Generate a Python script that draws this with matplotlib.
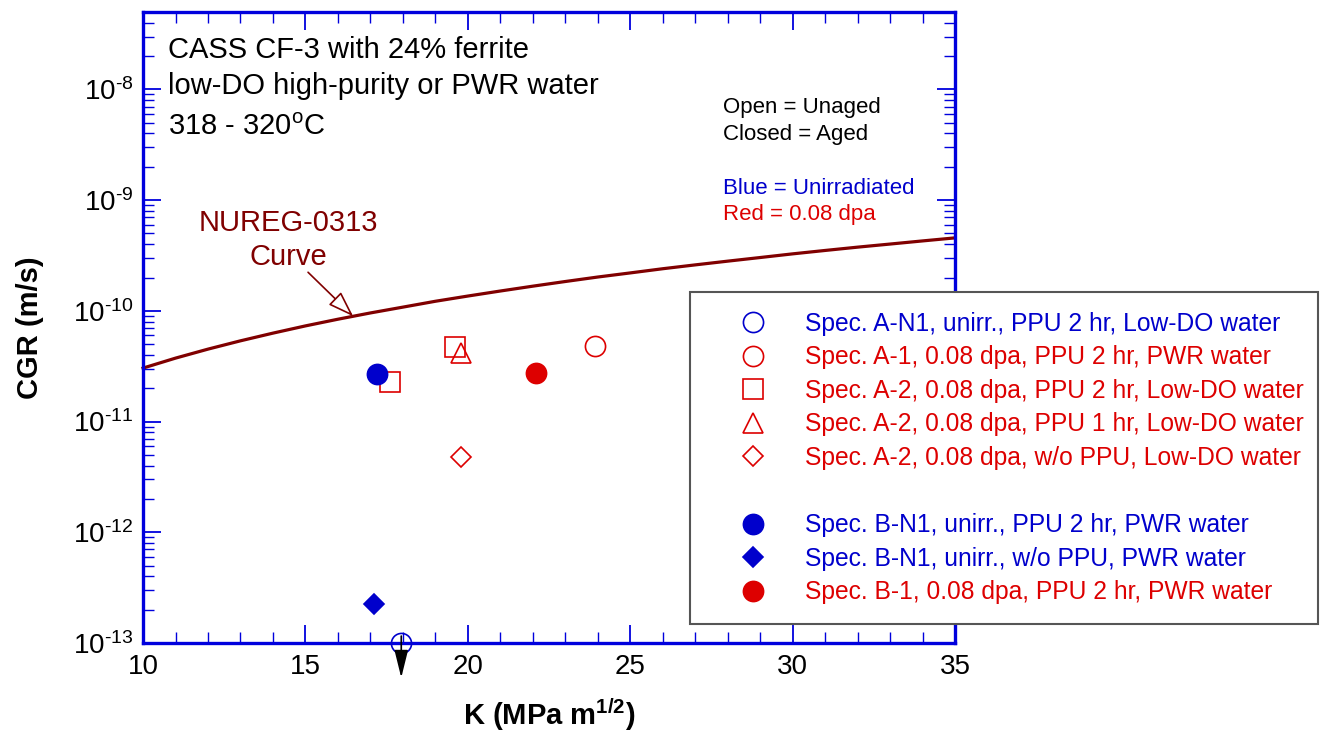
import numpy as np
import matplotlib
matplotlib.use('Agg')
import matplotlib.pyplot as plt
from matplotlib.lines import Line2D
import matplotlib.transforms as mtransforms
from matplotlib.ticker import LogLocator, MultipleLocator, NullFormatter, FuncFormatter

plt.rcParams['font.family'] = ['Liberation Sans', 'DejaVu Sans']
plt.rcParams['mathtext.fontset'] = 'custom'
plt.rcParams['mathtext.rm'] = 'Liberation Sans'
plt.rcParams['mathtext.it'] = 'Liberation Sans:italic'
plt.rcParams['mathtext.bf'] = 'Liberation Sans:bold'
plt.rcParams['axes.unicode_minus'] = False

BLUE = '#0000cc'
RED = '#dd0000'
MAROON = '#800000'
SPINE = '#0000dd'

# NUREG-0313 curve
nureg_k = [10, 11, 12, 13, 14, 15, 16, 17, 18, 19, 20, 21, 22, 23, 24, 25,
           26, 27, 28, 29, 30, 31, 32, 33, 34, 35]
nureg_cgr = [3.04e-11, 3.74e-11, 4.51e-11, 5.36e-11, 6.29e-11, 7.31e-11,
             8.40e-11, 9.57e-11, 1.08e-10, 1.22e-10, 1.36e-10, 1.51e-10,
             1.67e-10, 1.84e-10, 2.02e-10, 2.20e-10, 2.40e-10, 2.60e-10,
             2.81e-10, 3.03e-10, 3.27e-10, 3.51e-10, 3.76e-10, 4.01e-10,
             4.28e-10, 4.56e-10]

# Specimen data
a_n1_k = [17.95]
a_n1_cgr = [1.0e-13]          # below detection (arrow)
a1_k = [23.9]
a1_cgr = [4.8e-11]
a2_ppu2_k = [17.6, 19.6]
a2_ppu2_cgr = [2.27e-11, 4.7e-11]
a2_ppu1_k = [19.8]
a2_ppu1_cgr = [4.2e-11]
a2_noppu_k = [19.8]
a2_noppu_cgr = [4.8e-12]
bn1_ppu2_k = [17.2]
bn1_ppu2_cgr = [2.68e-11]
bn1_noppu_k = [17.1]
bn1_noppu_cgr = [2.27e-13]
b1_k = [22.1]
b1_cgr = [2.74e-11]

labels = [
    'Spec. A-N1, unirr., PPU 2 hr, Low-DO water',
    'Spec. A-1, 0.08 dpa, PPU 2 hr, PWR water',
    'Spec. A-2, 0.08 dpa, PPU 2 hr, Low-DO water',
    'Spec. A-2, 0.08 dpa, PPU 1 hr, Low-DO water',
    'Spec. A-2, 0.08 dpa, w/o PPU, Low-DO water',
    'Spec. B-N1, unirr., PPU 2 hr, PWR water',
    'Spec. B-N1, unirr., w/o PPU, PWR water',
    'Spec. B-1, 0.08 dpa, PPU 2 hr, PWR water',
]

fig = plt.figure(figsize=(13.27, 7.32), dpi=100)
ax = fig.add_axes([0.1078, 0.1216, 0.6119, 0.862])

ax.plot(nureg_k, nureg_cgr, color=MAROON, lw=2.3, zorder=2, clip_on=False)

series = [
    (a_n1_k, a_n1_cgr, 'o', 14.5, 'none', BLUE, labels[0], BLUE),
    (a1_k, a1_cgr, 'o', 14.5, 'none', RED, labels[1], RED),
    (a2_ppu2_k, a2_ppu2_cgr, 's', 14, 'none', RED, labels[2], RED),
    (a2_ppu1_k, a2_ppu1_cgr, '^', 15, 'none', RED, labels[3], RED),
    (a2_noppu_k, a2_noppu_cgr, 'D', 10.5, 'none', RED, labels[4], RED),
    (bn1_ppu2_k, bn1_ppu2_cgr, 'o', 14.5, BLUE, BLUE, labels[5], BLUE),
    (bn1_noppu_k, bn1_noppu_cgr, 'D', 10.5, BLUE, BLUE, labels[6], BLUE),
    (b1_k, b1_cgr, 'o', 14.5, RED, RED, labels[7], RED),
]

handles = []
text_colors = []
for k, c, m, ms, mfc, mec, lab, tc in series:
    h, = ax.plot(k, c, linestyle='none', marker=m, markersize=ms,
                 markerfacecolor=mfc, markeredgecolor=mec, markeredgewidth=1.2,
                 zorder=4, clip_on=False, label=lab)
    handles.append(h)
    text_colors.append(tc)

# arrow below the A-N1 point (below detection limit)
down = mtransforms.offset_copy(ax.transData, fig=fig, x=0, y=-25, units='points')
up = mtransforms.offset_copy(ax.transData, fig=fig, x=0, y=5, units='points')
ax.annotate('', xy=(a_n1_k[0], a_n1_cgr[0]), xycoords=down,
            xytext=(a_n1_k[0], a_n1_cgr[0]), textcoords=up,
            arrowprops=dict(arrowstyle='-|>,head_length=1.7,head_width=0.42',
                            mutation_scale=10, color='black', lw=1.2,
                            shrinkA=0, shrinkB=0),
            annotation_clip=False, zorder=5)

ax.set_yscale('log')
ax.set_xlim(10, 35)
ax.set_ylim(1e-13, 5e-8)
ax.xaxis.set_major_locator(MultipleLocator(5))
ax.xaxis.set_minor_locator(MultipleLocator(1))
ax.yaxis.set_major_locator(LogLocator(base=10, numticks=20))
ax.yaxis.set_minor_locator(LogLocator(base=10, subs=np.arange(2, 10), numticks=20))
ax.yaxis.set_minor_formatter(NullFormatter())
ax.yaxis.set_major_formatter(FuncFormatter(
    lambda v, p: r'10$^{\text{-%d}}$' % int(round(-np.log10(v)))))

ax.tick_params(which='both', direction='in', top=True, right=True, color=SPINE)
ax.tick_params(which='major', length=13, width=1.3)
ax.tick_params(which='minor', length=8, width=1.0)
ax.tick_params(axis='x', labelsize=20, pad=8)
ax.tick_params(axis='y', labelsize=20, pad=7)
for sp in ax.spines.values():
    sp.set_color(SPINE)
    sp.set_linewidth(2.4)
    sp.set_zorder(3)

ax.set_xlabel(r'K (MPa m$^{\mathbf{1/2}}$)', fontsize=21, fontweight='bold')
ax.set_ylabel('CGR (m/s)', fontsize=21, fontweight='bold')
ax.xaxis.set_label_coords(0.5, -0.113)
ax.xaxis.label.set_va('center')
ax.yaxis.set_label_coords(-0.139, 0.5)
ax.yaxis.label.set_va('center')

# header text
tf = dict(transform=ax.transAxes, va='center', ha='left', fontsize=21)
ax.text(0.0308, 0.939, 'CASS CF-3 with 24% ferrite', **tf)
ax.text(0.0308, 0.883, 'low-DO high-purity or PWR water', **tf)
ax.text(0.0308, 0.817, r'318 - 320$^{\mathrm{o}}$C', **tf)

sf = dict(transform=ax.transAxes, va='center', ha='left', fontsize=16)
ax.text(0.714, 0.849, 'Open = Unaged', color='black', **sf)
ax.text(0.714, 0.806, 'Closed = Aged', color='black', **sf)
ax.text(0.714, 0.720, 'Blue = Unirradiated', color=BLUE, **sf)
ax.text(0.714, 0.679, 'Red = 0.08 dpa', color=RED, **sf)

# NUREG-0313 label and arrow
ax.text(14.46, 6.2e-10, 'NUREG-0313', color=MAROON, fontsize=21,
        ha='center', va='center')
ax.text(14.46, 3.05e-10, 'Curve', color=MAROON, fontsize=21,
        ha='center', va='center')
tip_k = 16.47
tip_c = 10 ** np.interp(tip_k, nureg_k, np.log10(nureg_cgr))
ax.annotate('', xy=(tip_k, tip_c), xytext=(15.08, 2.23e-10),
            arrowprops=dict(arrowstyle='-|>,head_length=1.6,head_width=0.55',
                            mutation_scale=10, fc='white', ec=MAROON, lw=1.2,
                            shrinkA=0, shrinkB=0))

# legend with a blank row
blank = Line2D([], [], linestyle='none', marker=None)
leg_handles = handles[:5] + [blank] + handles[5:]
leg_labels = labels[:5] + [' '] + labels[5:]
leg_colors = text_colors[:5] + ['black'] + text_colors[5:]
leg = fig.legend(leg_handles, leg_labels, loc='upper left',
                 bbox_to_anchor=(690 / 1327, 1 - 620 / 732, 628 / 1327, 328 / 732),
                 bbox_transform=fig.transFigure, mode='expand', borderaxespad=0,
                 fontsize=17.7, handlelength=3.5, handletextpad=0.37,
                 borderpad=0.8, labelspacing=0.39, numpoints=1,
                 fancybox=False, framealpha=1, edgecolor='#555555')
leg.get_frame().set_linewidth(1.5)
for t, c in zip(leg.get_texts(), leg_colors):
    t.set_color(c)

fig.savefig('out.png', dpi=100)
